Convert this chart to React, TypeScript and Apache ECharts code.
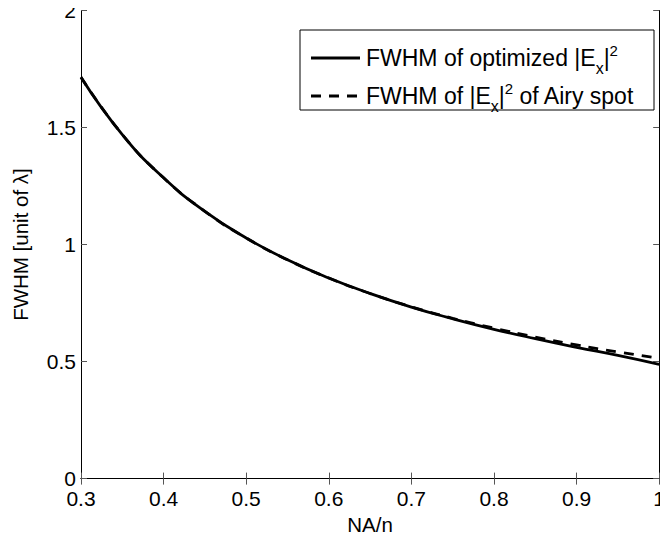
import React, { useEffect, useRef } from "react";
import * as echarts from "echarts";

const naValues = [0.3, 0.35, 0.4, 0.45, 0.5, 0.55, 0.6, 0.65, 0.7, 0.75, 0.8, 0.85, 0.9, 0.95, 1.0];
const fwhmOptimized = [1.715, 1.47, 1.285, 1.142, 1.028, 0.935, 0.857, 0.791, 0.733, 0.683, 0.638, 0.598, 0.561, 0.526, 0.488];
const fwhmAiry = [1.715, 1.47, 1.285, 1.142, 1.028, 0.935, 0.857, 0.791, 0.734, 0.685, 0.643, 0.605, 0.571, 0.541, 0.514];
const xTickLabels = ["0.3", "0.4", "0.5", "0.6", "0.7", "0.8", "0.9", "1"];
const yTickLabels = ["0", "0.5", "1", "1.5", "2"];
const legendRow1 = ["FWHM of optimized |E", "x", "|", "2"];
const legendRow2 = ["FWHM of |E", "x", "|", "2", " of Airy spot"];

const FONT = "'Liberation Sans', Arial, Helvetica, sans-serif";
const TICK_FS = 21;
const NAME_FS = 20.5;
const LEG_FS = 23;
const SUB_FS = 16;
const SUP_FS = 15;

function measure(text: string, size: number): number {
  const c = document.createElement("canvas").getContext("2d");
  if (!c) return text.length * size * 0.55;
  c.font = `${size}px ${FONT}`;
  return c.measureText(text).width;
}

function buildLegendTexts(parts: string[], x0: number, y: number) {
  const els: any[] = [];
  let x = x0;
  const styles = [
    { fs: LEG_FS, dy: 0 },
    { fs: SUB_FS, dy: 10 },
    { fs: LEG_FS, dy: 0 },
    { fs: SUP_FS, dy: -8 },
    { fs: LEG_FS, dy: 0 },
  ];
  parts.forEach((p, i) => {
    const s = styles[i];
    els.push({
      type: "text",
      x,
      y: y + s.dy,
      style: {
        text: p,
        fontSize: s.fs,
        fontFamily: FONT,
        fill: "#000",
        verticalAlign: "middle",
        align: "left",
      },
      z: 100,
    });
    x += measure(p, s.fs);
  });
  return els;
}

export default function App() {
  const ref = useRef<HTMLDivElement>(null);
  useEffect(() => {
    if (!ref.current) return;
    const chart = echarts.init(ref.current, null, { renderer: "svg" });
    const gridLeft = 81, gridTop = 10, gridRight = 2, gridBottom = 60;
    const axisLine = { show: true, lineStyle: { color: "#000", width: 1 } };
    const tick = { show: true, inside: true, length: 6, lineStyle: { color: "#555", width: 1 } };
    const legendX = 300, legendY = 30, legendW = 354, legendH = 80;
    const row1Y = 58, row2Y = 96;
    const graphic: any[] = [
      {
        type: "rect",
        shape: { x: legendX, y: legendY, width: legendW, height: legendH },
        style: { fill: "#fff", stroke: "#000", lineWidth: 1 },
        z: 99,
      },
      {
        type: "line",
        shape: { x1: 311, y1: row1Y, x2: 360, y2: row1Y },
        style: { stroke: "#000", lineWidth: 2.8 },
        z: 100,
      },
      {
        type: "line",
        shape: { x1: 311, y1: row2Y, x2: 360, y2: row2Y },
        style: { stroke: "#000", lineWidth: 2.8, lineDash: [10, 8] },
        z: 100,
      },
      ...buildLegendTexts(legendRow1, 366, row1Y),
      ...buildLegendTexts(legendRow2, 366, row2Y),
    ];
    chart.setOption({
      animation: false,
      backgroundColor: "#fff",
      grid: { left: gridLeft, top: gridTop, right: gridRight, bottom: gridBottom, containLabel: false },
      xAxis: [
        {
          type: "value",
          min: 0.3,
          max: 1.0,
          interval: 0.1,
          position: "bottom",
          axisLine,
          axisTick: tick,
          splitLine: { show: false },
          axisLabel: {
            fontSize: TICK_FS,
            fontFamily: FONT,
            color: "#000",
            margin: 11,
            lineHeight: 18,
            formatter: (v: number) => {
              const idx = Math.round((v - 0.3) * 10);
              return xTickLabels[idx] ?? "";
            },
          },
          name: "NA/n",
          nameLocation: "middle",
          nameGap: 33,
          nameTextStyle: { fontSize: NAME_FS, fontFamily: FONT, color: "#000" },
        },
        {
          type: "value",
          min: 0.3,
          max: 1.0,
          interval: 0.1,
          position: "top",
          axisLine,
          axisTick: tick,
          splitLine: { show: false },
          axisLabel: { show: false },
        },
      ],
      yAxis: [
        {
          type: "value",
          min: 0,
          max: 2,
          interval: 0.5,
          position: "left",
          axisLine,
          axisTick: tick,
          splitLine: { show: false },
          axisLabel: {
            fontSize: TICK_FS,
            fontFamily: FONT,
            color: "#000",
            margin: 5,
            lineHeight: 18,
            formatter: (v: number) => yTickLabels[Math.round(v * 2)] ?? "",
          },
          name: "FWHM [unit of λ]",
          nameLocation: "middle",
          nameGap: 50,
          nameTextStyle: { fontSize: NAME_FS, fontFamily: FONT, color: "#000" },
        },
        {
          type: "value",
          min: 0,
          max: 2,
          interval: 0.5,
          position: "right",
          axisLine,
          axisTick: tick,
          splitLine: { show: false },
          axisLabel: { show: false },
        },
      ],
      series: [
        {
          type: "line",
          data: naValues.map((x, i) => [x, fwhmOptimized[i]]),
          smooth: true,
          showSymbol: false,
          lineStyle: { color: "#000", width: 2.8, type: "solid" },
          z: 2,
        },
        {
          type: "line",
          data: naValues.map((x, i) => [x, fwhmAiry[i]]),
          smooth: true,
          showSymbol: false,
          lineStyle: { color: "#000", width: 2.8, type: [10, 8] },
          z: 3,
        },
      ],
      graphic,
    });
    return () => chart.dispose();
  }, []);
  return <div ref={ref} style={{ width: 668, height: 540, margin: -8 }} />;
}
